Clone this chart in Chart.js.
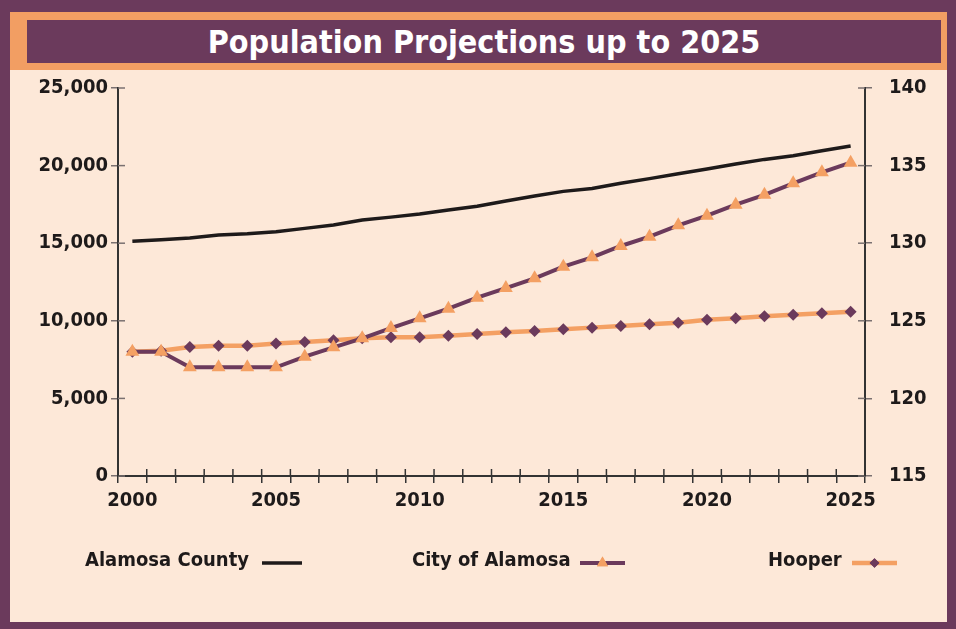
<!DOCTYPE html>
<html>
<head>
<meta charset="utf-8">
<script src="https://cdn.jsdelivr.net/npm/chart.js@4"></script>
<style>
  html, body { margin: 0; padding: 0; }
  body { width: 956px; height: 629px; background: #6b3a5c; position: relative; overflow: hidden; }
  #panel { position: absolute; left: 10px; top: 12px; width: 937px; height: 610px; background: #fde8d8; }
  #titlebar { position: absolute; left: 10px; top: 12px; width: 937px; height: 58px; background: #f29e63; }
  #title {
    position: absolute; left: 27px; top: 20px; width: 914px; height: 43px;
    background: #6b3a5c; color: #fff; text-align: center; line-height: 44px;
    font-family: 'DejaVu Sans Condensed', 'DejaVu Sans', sans-serif; font-weight: bold; font-size: 32px;
  }
  #chart { position: absolute; left: 0; top: 0; }
</style>
</head>
<body>
<div id="panel"></div>
<div id="titlebar"></div>
<div id="title">Population Projections up to 2025</div>
<canvas id="chart" width="956" height="629"></canvas>
<script>
const years = ['2000', '2001', '2002', '2003', '2004', '2005', '2006', '2007', '2008', '2009',
  '2010', '2011', '2012', '2013', '2014', '2015', '2016', '2017', '2018', '2019',
  '2020', '2021', '2022', '2023', '2024', '2025'];

const alamosaCounty = [15120, 15225, 15330, 15530, 15610, 15740, 15955, 16170, 16500, 16680,
  16880, 17140, 17375, 17720, 18040, 18340, 18530, 18860, 19160, 19480,
  19780, 20100, 20400, 20640, 20960, 21260];

const cityOfAlamosa = [8000, 8000, 7000, 7000, 7000, 7000, 7690, 8290, 8870, 9535,
  10160, 10780, 11490, 12110, 12740, 13490, 14090, 14820, 15420, 16150,
  16770, 17480, 18120, 18860, 19570, 20190];

// Hooper uses the right-hand axis
const hooper = [123.01, 123.07, 123.31, 123.40, 123.40, 123.53, 123.63, 123.74, 123.87, 123.94,
  123.94, 124.04, 124.15, 124.26, 124.34, 124.45, 124.56, 124.66, 124.77, 124.88,
  125.07, 125.16, 125.29, 125.39, 125.48, 125.59];

const leftTicks = [0, 5000, 10000, 15000, 20000, 25000];
const rightTicks = [115, 120, 125, 130, 135, 140];

const PURPLE = '#6b3a5c';
const ORANGE = '#f4a063';
const BLACK = '#1e1a1a';
const FONT = "'DejaVu Sans Condensed', 'DejaVu Sans', sans-serif";

// ticks on these charts cross the axis line, chart.js only draws the outer half
const innerTicks = {
  id: 'innerTicks',
  afterDraw(chart) {
    const { ctx, chartArea, scales } = chart;
    const len = 7;
    ctx.save();
    ctx.lineWidth = 1.5;
    ctx.strokeStyle = '#7a7070';
    scales.y.ticks.forEach((t, i) => {
      const y = scales.y.getPixelForTick(i);
      ctx.beginPath(); ctx.moveTo(chartArea.left, y); ctx.lineTo(chartArea.left + len, y); ctx.stroke();
    });
    scales.y1.ticks.forEach((t, i) => {
      const y = scales.y1.getPixelForTick(i);
      ctx.beginPath(); ctx.moveTo(chartArea.right, y); ctx.lineTo(chartArea.right - len, y); ctx.stroke();
    });
    ctx.strokeStyle = '#333';
    const x = scales.x;
    const step = x.getPixelForValue(1) - x.getPixelForValue(0);
    const start = x.getPixelForValue(0) - step / 2;
    for (let i = 0; i <= years.length; i++) {
      const px = start + i * step;
      ctx.beginPath(); ctx.moveTo(px, chartArea.bottom); ctx.lineTo(px, chartArea.bottom - len); ctx.stroke();
    }
    ctx.restore();
  }
};

// legend: label text first, then the line sample
const legendSpots = [
  { textX: 85, lineX: 262, lineW: 40 },
  { textX: 412, lineX: 580, lineW: 45 },
  { textX: 768, lineX: 852, lineW: 45 }
];

const textLegend = {
  id: 'textLegend',
  afterDraw(chart) {
    const { ctx } = chart;
    const y = 561;
    ctx.save();
    ctx.font = 'bold 20px ' + FONT;
    ctx.textBaseline = 'middle';
    chart.data.datasets.forEach((ds, i) => {
      const spot = legendSpots[i];
      ctx.fillStyle = BLACK;
      ctx.fillText(ds.label, spot.textX, y);
      ctx.strokeStyle = ds.borderColor;
      ctx.lineWidth = ds.borderWidth;
      ctx.beginPath(); ctx.moveTo(spot.lineX, y + 2); ctx.lineTo(spot.lineX + spot.lineW, y + 2); ctx.stroke();
      if (ds.pointRadius > 0) {
        ctx.fillStyle = ds.pointBackgroundColor;
        ctx.beginPath();
        Chart.helpers.drawPoint(ctx, { pointStyle: ds.pointStyle, radius: ds.pointRadius * 0.8, rotation: 0, borderWidth: 0 },
          spot.lineX + spot.lineW / 2, y + 2);
        ctx.fill();
      }
    });
    ctx.restore();
  }
};

new Chart(document.getElementById('chart'), {
  type: 'line',
  data: {
    labels: years,
    datasets: [
      {
        label: 'Alamosa County',
        data: alamosaCounty,
        borderColor: BLACK,
        borderWidth: 3.5,
        pointRadius: 0,
        yAxisID: 'y',
        order: 0
      },
      {
        label: 'City of Alamosa',
        data: cityOfAlamosa,
        borderColor: PURPLE,
        borderWidth: 4,
        pointStyle: 'triangle',
        pointRadius: 8,
        pointBackgroundColor: ORANGE,
        pointBorderColor: ORANGE,
        pointBorderWidth: 0,
        yAxisID: 'y',
        order: 1
      },
      {
        label: 'Hooper',
        data: hooper,
        borderColor: ORANGE,
        borderWidth: 4.5,
        pointStyle: 'rectRot',
        pointRadius: 6,
        pointBackgroundColor: PURPLE,
        pointBorderColor: PURPLE,
        pointBorderWidth: 0,
        yAxisID: 'y1',
        order: 2
      }
    ]
  },
  options: {
    responsive: false,
    animation: false,
    devicePixelRatio: 1,
    layout: { padding: { top: 88, left: 0, right: 0, bottom: 0 } },
    plugins: {
      legend: { display: false },
      tooltip: { enabled: false }
    },
    scales: {
      x: {
        offset: true,
        grid: { offset: true, drawOnChartArea: false, tickLength: 7, color: '#333', lineWidth: 1.5 },
        border: { color: '#333', width: 2 },
        ticks: {
          autoSkip: false,
          maxRotation: 0,
          padding: 6,
          color: BLACK,
          font: { family: FONT, size: 20, weight: 'bold' },
          callback: function (v, i) {
            const label = years[i];
            return Number(label) % 5 === 0 ? label : '';
          }
        },
        afterFit: (s) => { s.height = 153; }
      },
      y: {
        position: 'left',
        min: leftTicks[0],
        max: leftTicks[leftTicks.length - 1],
        grid: { drawOnChartArea: false, tickLength: 7, color: '#7a7070', lineWidth: 1.5 },
        border: { color: '#333', width: 2 },
        afterBuildTicks: (s) => { s.ticks = leftTicks.map((v) => ({ value: v })); },
        ticks: {
          padding: 3,
          color: BLACK,
          font: { family: FONT, size: 20, weight: 'bold' },
          callback: (v) => v.toLocaleString('en-US')
        },
        afterFit: (s) => { s.width = 118; }
      },
      y1: {
        position: 'right',
        min: rightTicks[0],
        max: rightTicks[rightTicks.length - 1],
        grid: { drawOnChartArea: false, tickLength: 7, color: '#7a7070', lineWidth: 1.5 },
        border: { color: '#333', width: 2 },
        afterBuildTicks: (s) => { s.ticks = rightTicks.map((v) => ({ value: v })); },
        ticks: {
          padding: 17,
          color: BLACK,
          font: { family: FONT, size: 20, weight: 'bold' }
        },
        afterFit: (s) => { s.width = 91; }
      }
    }
  },
  plugins: [innerTicks, textLegend]
});
</script>
</body>
</html>
